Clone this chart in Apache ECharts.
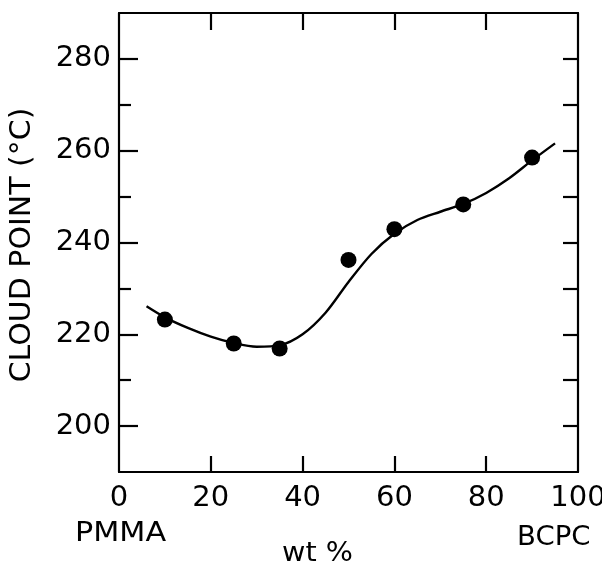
<!DOCTYPE html>
<html>
<head>
<meta charset="utf-8">
<script src="https://cdn.jsdelivr.net/npm/echarts@6/dist/echarts.min.js"></script>
<style>html,body{margin:0;padding:0;background:#fff}#c{width:602px;height:566px}</style>
</head>
<body>
<div id="c"></div>
<script>
// measured points
const wtPct = [10, 25, 35, 50, 60, 75, 90];
const cloudPoint = [223.2, 218, 216.9, 236.2, 242.9, 248.3, 258.5];
// fitted curve
const curveX = [6, 10, 15, 20, 25, 30, 35, 40, 45, 50, 55, 60, 65, 70, 75, 80, 85, 90, 95];
const curveY = [226.1, 223.7, 221.4, 219.5, 218.1, 217.3, 217.6, 220.0, 224.7, 231.4, 237.5, 241.9, 244.9, 246.7, 248.4, 250.8, 254.0, 257.9, 261.6];
const xTickLabels = [0, 20, 40, 60, 80, 100];
const xMajorTicks = [20, 40, 60, 80];
const yTickLabels = [200, 220, 240, 260, 280];
const yMinorTicks = [210, 230, 250, 270];
const yRightTicks = [200, 210, 220, 230, 240, 250, 260, 270, 280];

const FONT = 'DejaVu Sans';
const chart = echarts.init(document.getElementById('c'), null, {renderer: 'canvas'});
const lineStyle = {color: '#000', width: 2.2};
chart.setOption({
  animation: false,
  backgroundColor: '#fff',
  grid: {left: 119, right: 24, top: 13, bottom: 94, outerBoundsMode: 'none', containLabel: false},
  xAxis: [
    {type: 'value', position: 'bottom', min: 0, max: 100, interval: 20,
     axisLine: {lineStyle}, splitLine: {show: false},
     axisTick: {inside: true, length: 16, lineStyle, customValues: xMajorTicks},
     axisLabel: {customValues: xTickLabels, color: '#000', fontFamily: FONT, fontSize: 29, margin: 12, hideOverlap: false}},
    {type: 'value', position: 'top', min: 0, max: 100, interval: 20,
     axisLine: {lineStyle}, splitLine: {show: false},
     axisTick: {inside: true, length: 17, lineStyle, customValues: xMajorTicks},
     axisLabel: {show: false}}
  ],
  yAxis: [
    {type: 'value', position: 'left', min: 190, max: 290, interval: 10,
     axisLine: {lineStyle}, splitLine: {show: false},
     axisTick: {inside: true, length: 19, lineStyle, customValues: yTickLabels},
     axisLabel: {customValues: yTickLabels, color: '#000', fontFamily: FONT, fontSize: 29, margin: 8}},
    {type: 'value', position: 'left', min: 190, max: 290, interval: 10,
     axisLine: {show: false}, splitLine: {show: false},
     axisTick: {inside: true, length: 12, lineStyle, customValues: yMinorTicks},
     axisLabel: {show: false}},
    {type: 'value', position: 'right', min: 190, max: 290, interval: 10,
     axisLine: {lineStyle}, splitLine: {show: false},
     axisTick: {inside: true, length: 15, lineStyle, customValues: yRightTicks},
     axisLabel: {show: false}}
  ],
  graphic: [
    {type: 'text', x: 75, y: 534, scaleX: 1.12, style: {text: 'PMMA', fill: '#000', font: '27px "DejaVu Sans"', align: 'left', verticalAlign: 'middle'}},
    {type: 'text', x: 517, y: 538, scaleX: 1.02, style: {text: 'BCPC', fill: '#000', font: '27px "DejaVu Sans"', align: 'left', verticalAlign: 'middle'}},
    {type: 'text', x: 282, y: 554, scaleX: 1.1, style: {text: 'wt %', fill: '#000', font: '26px "DejaVu Sans"', align: 'left', verticalAlign: 'middle'}},
    {type: 'text', x: 23, y: 245, rotation: Math.PI / 2, scaleX: 1.07, style: {text: 'CLOUD POINT (°C)', fill: '#000', font: '28px "DejaVu Sans"', align: 'center', verticalAlign: 'middle'}}
  ],
  series: [
    {type: 'line', xAxisIndex: 0, yAxisIndex: 0, smooth: 0.3, showSymbol: false,
     lineStyle: {color: '#000', width: 2.4},
     data: curveX.map((x, i) => [x, curveY[i]])},
    {type: 'scatter', xAxisIndex: 0, yAxisIndex: 0, symbol: 'circle', symbolSize: 16,
     itemStyle: {color: '#000', opacity: 1},
     data: wtPct.map((x, i) => [x, cloudPoint[i]])}
  ]
});
</script>
</body>
</html>
